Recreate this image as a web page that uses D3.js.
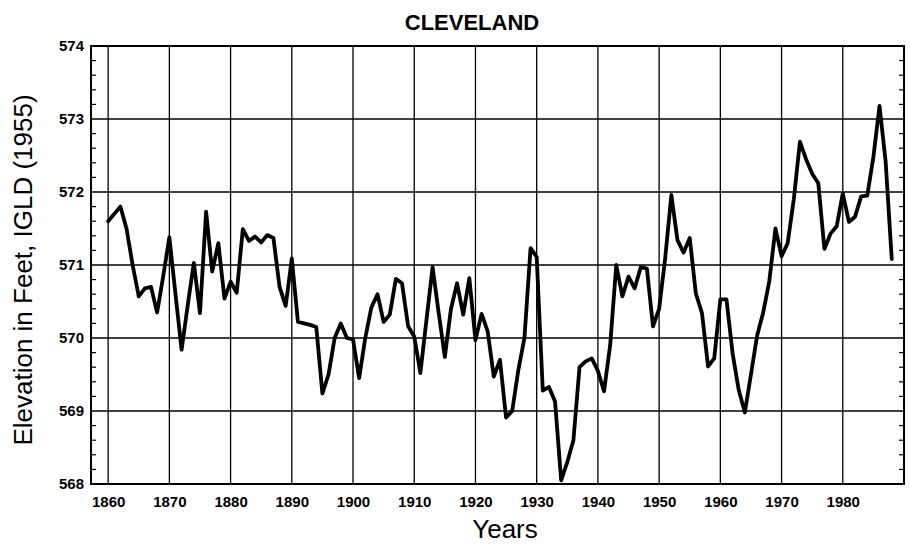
<!DOCTYPE html>
<html>
<head>
<meta charset="utf-8">
<script src="https://cdn.jsdelivr.net/npm/d3@7/dist/d3.min.js"></script>
<style>
  html, body { margin: 0; padding: 0; background: #fff; }
  svg { display: block; }
  text { font-family: "Liberation Sans", Arial, Helvetica, sans-serif; fill: #000; }
</style>
</head>
<body>
<div id="chart"></div>
<script>
const title = "CLEVELAND";
const xTitle = "Years";
const yTitle = "Elevation in Feet, IGLD (1955)";
const startYear = 1860;
const levels = [
  571.6, 571.7, 571.8, 571.5, 571.0, 570.57, 570.68, 570.7, 570.35, 570.85,
  571.38, 570.6, 569.84, 570.45, 571.03, 570.34, 571.73, 570.91, 571.3, 570.54,
  570.77, 570.62, 571.49, 571.33, 571.39, 571.31, 571.41, 571.37, 570.7, 570.44,
  571.09, 570.22, 570.2, 570.18, 570.15, 569.24, 569.5, 570.0, 570.2, 570.0,
  569.98, 569.45, 570.0, 570.42, 570.6, 570.22, 570.32, 570.81, 570.75, 570.16,
  570.02, 569.52, 570.25, 570.97, 570.34, 569.74, 570.4, 570.75, 570.32, 570.82,
  569.97, 570.33, 570.09, 569.47, 569.7, 568.91, 569.0, 569.56, 570.0, 571.23,
  571.11, 569.28, 569.33, 569.13, 568.05, 568.3, 568.6, 569.6, 569.68, 569.72,
  569.55, 569.27, 569.9, 571.0, 570.57, 570.84, 570.68, 570.97, 570.95, 570.16,
  570.4, 571.1, 571.96, 571.34, 571.17, 571.37, 570.61, 570.34, 569.61, 569.72,
  570.53, 570.53, 569.79, 569.29, 568.98, 569.5, 570.03, 570.35, 570.78, 571.5,
  571.12, 571.3, 571.9, 572.69, 572.45, 572.25, 572.12, 571.22, 571.43, 571.53,
  571.98, 571.59, 571.66, 571.94, 571.95, 572.48, 573.18, 572.42, 571.08
];
const years = levels.map((d, i) => startYear + i);
const xTicks = [1860, 1870, 1880, 1890, 1900, 1910, 1920, 1930, 1940, 1950, 1960, 1970, 1980];
const xGrid = [1860, 1870, 1880, 1890, 1900, 1910, 1920, 1930, 1940, 1950, 1960, 1970, 1980, 1990];
const yTicks = [568, 569, 570, 571, 572, 573, 574];

const W = 910, H = 545;
const svg = d3.select("#chart").append("svg").attr("width", W).attr("height", H);

const x = d3.scaleLinear().domain([1857.2, 1990]).range([91, 904]);
const y = d3.scaleLinear().domain([568, 574]).range([484, 46]);

// minor ticks (0.2 ft) on left and right borders
const minor = d3.range(568, 574.001, 0.2).filter(v => Math.abs(v - Math.round(v)) > 0.01);
svg.append("g").selectAll("line.ml").data(minor).join("line")
  .attr("x1", x.range()[0]).attr("x2", x.range()[0] + 5)
  .attr("y1", d => y(d)).attr("y2", d => y(d))
  .attr("stroke", "#000").attr("stroke-width", 1.2);
svg.append("g").selectAll("line.mr").data(minor).join("line")
  .attr("x1", x.range()[1]).attr("x2", x.range()[1] - 5)
  .attr("y1", d => y(d)).attr("y2", d => y(d))
  .attr("stroke", "#000").attr("stroke-width", 1.2);

// grid
svg.append("g").selectAll("line").data(xGrid).join("line")
  .attr("x1", d => x(d)).attr("x2", d => x(d))
  .attr("y1", y.range()[1]).attr("y2", y.range()[0])
  .attr("stroke", "#000").attr("stroke-width", 1.3);
svg.append("g").selectAll("line").data(yTicks).join("line")
  .attr("x1", x.range()[0]).attr("x2", x.range()[1])
  .attr("y1", d => y(d)).attr("y2", d => y(d))
  .attr("stroke", "#000").attr("stroke-width", 1.3);

// frame
svg.append("rect")
  .attr("x", x.range()[0]).attr("y", y.range()[1])
  .attr("width", x.range()[1] - x.range()[0]).attr("height", y.range()[0] - y.range()[1])
  .attr("fill", "none").attr("stroke", "#000").attr("stroke-width", 2);

// axes labels via d3 axes
const yAxis = d3.axisLeft(y).tickValues(yTicks).tickFormat(d3.format("d")).tickSize(0).tickPadding(7);
const gy = svg.append("g").attr("transform", `translate(${x.range()[0]},0)`).call(yAxis);
gy.select(".domain").remove();
gy.selectAll("text").style("font-size", "15px").style("font-weight", "bold")
  .style("font-family", "'Liberation Sans', Arial, sans-serif");

const xAxis = d3.axisBottom(x).tickValues(xTicks).tickFormat(d3.format("d")).tickSize(0).tickPadding(12);
const gx = svg.append("g").attr("transform", `translate(0,${y.range()[0]})`).call(xAxis);
gx.select(".domain").remove();
gx.selectAll("text").style("font-size", "15px").style("font-weight", "bold")
  .style("font-family", "'Liberation Sans', Arial, sans-serif");

// data line
const line = d3.line().x((d, i) => x(years[i])).y(d => y(d));
svg.append("path").datum(levels)
  .attr("d", line)
  .attr("fill", "none").attr("stroke", "#000").attr("stroke-width", 3.8)
  .attr("stroke-linejoin", "round").attr("stroke-linecap", "round");

// titles
svg.append("text").attr("x", 472).attr("y", 30).attr("text-anchor", "middle")
  .style("font-size", "22px").style("font-weight", "bold").text(title);
svg.append("text").attr("x", 505).attr("y", 538).attr("text-anchor", "middle")
  .style("font-size", "26px").text(xTitle);
svg.append("text").attr("transform", "translate(32,270) rotate(-90)").attr("text-anchor", "middle")
  .style("font-size", "26px").text(yTitle);
</script>
</body>
</html>
